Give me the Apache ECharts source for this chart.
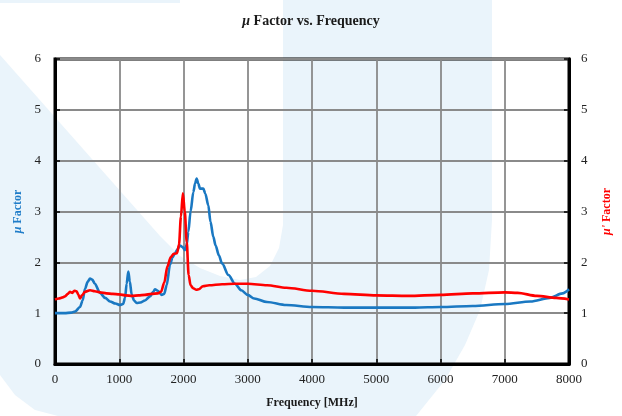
<!DOCTYPE html>
<html>
<head>
<meta charset="utf-8">
<script src="https://cdn.jsdelivr.net/npm/echarts@6/dist/echarts.min.js"></script>
<style>html,body{margin:0;padding:0;background:#fff}#c{width:622px;height:416px}</style>
</head>
<body>
<div id="c"></div>
<script>
// X axis ticks
var xTicks = [0, 1000, 2000, 3000, 4000, 5000, 6000, 7000, 8000];
var yTicks = [0, 1, 2, 3, 4, 5, 6];

// μ Factor (blue, left axis)
var muFreq = [0, 150, 250, 311, 389, 430, 467, 510, 545, 580, 620, 700, 780, 856, 940, 1011, 1060, 1090, 1115, 1141, 1165, 1193, 1230, 1271, 1330, 1400, 1479, 1530, 1556, 1600, 1660, 1700, 1738, 1790, 1830, 1868, 1910, 1945, 1985, 2023, 2050, 2075, 2110, 2153, 2180, 2205, 2230, 2257, 2308, 2340, 2386, 2420, 2464, 2500, 2550, 2600, 2700, 2800, 2900, 3000, 3100, 3300, 3600, 4000, 4500, 5000, 5600, 6000, 6500, 7000, 7400, 7700, 7900, 8000];
var muVals = [1.00, 1.00, 1.01, 1.03, 1.12, 1.25, 1.48, 1.62, 1.68, 1.66, 1.58, 1.40, 1.30, 1.23, 1.19, 1.16, 1.18, 1.30, 1.58, 1.82, 1.62, 1.37, 1.25, 1.20, 1.21, 1.25, 1.33, 1.42, 1.47, 1.44, 1.36, 1.38, 1.55, 1.95, 2.10, 2.18, 2.26, 2.33, 2.30, 2.24, 2.35, 2.60, 3.00, 3.38, 3.55, 3.65, 3.55, 3.45, 3.45, 3.35, 3.12, 2.80, 2.50, 2.33, 2.14, 1.98, 1.75, 1.58, 1.45, 1.36, 1.29, 1.22, 1.16, 1.12, 1.11, 1.11, 1.11, 1.12, 1.14, 1.18, 1.23, 1.30, 1.39, 1.47];

// μ' Factor (red, right axis)
var muPrimeFreq = [0, 60, 120, 155, 200, 233, 270, 300, 337, 365, 389, 420, 467, 545, 620, 700, 800, 900, 1000, 1100, 1200, 1300, 1400, 1500, 1600, 1650, 1700, 1750, 1800, 1850, 1900, 1930, 1960, 1990, 2020, 2050, 2080, 2110, 2150, 2200, 2240, 2300, 2400, 2600, 2800, 3000, 3300, 3600, 4000, 4500, 5000, 5500, 6000, 6500, 7000, 7200, 7500, 7800, 8000];
var muPrimeVals = [1.27, 1.29, 1.31, 1.33, 1.38, 1.42, 1.40, 1.44, 1.43, 1.36, 1.29, 1.35, 1.42, 1.45, 1.43, 1.41, 1.39, 1.38, 1.37, 1.35, 1.34, 1.35, 1.36, 1.38, 1.39, 1.42, 1.60, 1.92, 2.10, 2.17, 2.18, 2.35, 2.90, 3.36, 3.00, 2.40, 1.75, 1.55, 1.49, 1.46, 1.47, 1.53, 1.55, 1.57, 1.58, 1.58, 1.55, 1.50, 1.44, 1.38, 1.35, 1.34, 1.36, 1.39, 1.41, 1.40, 1.34, 1.30, 1.27];

function pairs(xs, ys) { return xs.map(function (x, i) { return [x, ys[i]]; }); }

var serif = '"Liberation Serif", "DejaVu Serif", serif';
var chart = echarts.init(document.getElementById('c'));
chart.setOption({
  animation: false,
  backgroundColor: '#ffffff',
  graphic: [{
    type: 'polygon',
    silent: true,
    z: -100,
    shape: { points: [[0,55],[160,236],[180,256],[200,268],[220,276],[240,280],[256,277],[270,266],[279,248],[283,225],[283,0],[492,0],[492,220],[489,270],[480,310],[465,345],[445,380],[416,416],[58,416],[35,410],[15,395],[0,375]] },
    style: { fill: '#eaf4fb' }
  }, {
    type: 'rect',
    silent: true,
    z: -100,
    shape: { x: 0, y: 0, width: 180, height: 3 },
    style: { fill: '#eaf4fb' }
  }],
  title: {
    text: '{i|μ} Factor vs. Frequency',
    left: 'center',
    top: 9,
    textStyle: {
      fontFamily: serif, fontSize: 14, fontWeight: 'bold', color: '#1a1a1a',
      rich: { i: { fontFamily: serif, fontSize: 14, fontWeight: 'bold', fontStyle: 'italic', color: '#1a1a1a' } }
    }
  },
  grid: { left: 55, right: 53, top: 59, bottom: 52, show: true, borderColor: '#000', borderWidth: 3, backgroundColor: 'transparent' },
  xAxis: {
    type: 'value', min: xTicks[0], max: xTicks[xTicks.length - 1], interval: 1000,
    name: 'Frequency [MHz]', nameLocation: 'middle', nameGap: 33,
    nameTextStyle: { fontFamily: serif, fontSize: 12, fontWeight: 'bold', color: '#1a1a1a' },
    axisLine: { show: true, lineStyle: { color: '#000', width: 3 } },
    axisTick: { show: true, inside: true, length: 5, lineStyle: { color: '#000', width: 1.5 } },
    axisLabel: { fontFamily: serif, fontSize: 13, color: '#222', margin: 9, formatter: function (v) { return String(v); } },
    splitLine: { show: true, lineStyle: { color: '#8a8a8a', width: 1.8 } }
  },
  yAxis: [{
    type: 'value', min: yTicks[0], max: yTicks[yTicks.length - 1], interval: 1, position: 'left',
    name: '{i|μ} Factor', nameLocation: 'middle', nameGap: 30, nameRotate: 90,
    nameTextStyle: {
      fontFamily: serif, fontSize: 12, fontWeight: 'bold', color: '#1f7cc8',
      rich: { i: { fontFamily: serif, fontSize: 12, fontWeight: 'bold', fontStyle: 'italic', color: '#1f7cc8' } }
    },
    axisLine: { show: true, lineStyle: { color: '#000', width: 3 } },
    axisTick: { show: true, inside: true, length: 5, lineStyle: { color: '#000', width: 1.5 } },
    axisLabel: { fontFamily: serif, fontSize: 13, color: '#222', margin: 14 },
    splitLine: { show: true, lineStyle: { color: '#8a8a8a', width: 1.8 } }
  }, {
    type: 'value', min: yTicks[0], max: yTicks[yTicks.length - 1], interval: 1, position: 'right',
    name: "{i|μ'} Factor", nameLocation: 'middle', nameGap: 32, nameRotate: 90,
    nameTextStyle: {
      fontFamily: serif, fontSize: 12, fontWeight: 'bold', color: '#ff0000',
      rich: { i: { fontFamily: serif, fontSize: 12, fontWeight: 'bold', fontStyle: 'italic', color: '#ff0000' } }
    },
    axisLine: { show: true, lineStyle: { color: '#000', width: 3 } },
    axisTick: { show: true, inside: true, length: 5, lineStyle: { color: '#000', width: 1.5 } },
    axisLabel: { fontFamily: serif, fontSize: 13, color: '#222', margin: 12 },
    splitLine: { show: false }
  }],
  series: [{
    name: 'μ Factor', type: 'line', yAxisIndex: 0, showSymbol: false, smooth: 0.3, smoothMonotone: 'x',
    data: pairs(muFreq, muVals),
    lineStyle: { color: '#1a78c2', width: 2.6 }, itemStyle: { color: '#1a78c2' }, z: 3
  }, {
    name: "μ' Factor", type: 'line', yAxisIndex: 1, showSymbol: false, smooth: 0.3, smoothMonotone: 'x',
    data: pairs(muPrimeFreq, muPrimeVals),
    lineStyle: { color: '#ff0000', width: 2.6 }, itemStyle: { color: '#ff0000' }, z: 4
  }]
});
</script>
</body>
</html>
